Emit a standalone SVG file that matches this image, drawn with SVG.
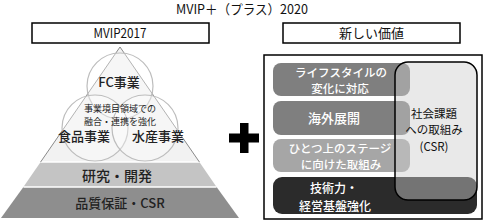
<svg xmlns="http://www.w3.org/2000/svg" width="485" height="221" viewBox="0 0 485 221">
<style>
text{font-family:"Noto Sans CJK JP","Noto Sans CJK SC",sans-serif;text-anchor:middle}
.hdr{fill:#fff;stroke:#000;stroke-width:1.5}
.t13{font-size:13px;fill:#111}
.t12{font-size:11.5px;fill:#111}
.dark{font-size:13px;fill:#222;font-weight:500}
.w{font-size:13px;fill:#fff;font-weight:500}
.w12{font-size:11.5px;fill:#fff;font-weight:500}
.circ{fill:#fff;fill-opacity:0.35;stroke:#bdbdbd;stroke-width:1.2}
.sep{stroke:#fff;stroke-width:1.5}
</style>
<rect width="485" height="221" fill="#fff"/>
<g id="title"><text class="t13" x="242" y="14" textLength="132" lengthAdjust="spacingAndGlyphs">MVIP＋（プラス）2020</text></g>
<g id="hdr-left"><rect class="hdr" x="32" y="23" width="177" height="20"/><text class="t13" x="120" y="38" textLength="53" lengthAdjust="spacingAndGlyphs">MVIP2017</text></g>
<g id="hdr-right"><rect class="hdr" x="283" y="23" width="177" height="20"/><text class="t13" x="371.5" y="38">新しい価値</text></g>
<g id="pyramid">
<polygon points="120,47 40.6,162 199.4,162" fill="#f2f2f2"/>
<polygon points="40.6,162 199.4,162 216.6,187 23.4,187" fill="#c4c4c4"/>
<polygon points="23.4,187 216.6,187 239,218 1,218" fill="#8e8e8e"/>
<line class="sep" x1="40.6" y1="162" x2="199.4" y2="162"/>
<line class="sep" x1="23.4" y1="187" x2="216.6" y2="187"/>
<polyline points="40.6,162 120,47 199.4,162" fill="none" stroke="#8a8a8a" stroke-width="1"/>
</g>
<g id="fc"><circle class="circ" cx="120" cy="86" r="33"/></g>
<g id="food"><circle class="circ" cx="95" cy="128" r="33"/></g>
<g id="marine"><circle class="circ" cx="145" cy="128" r="33"/></g>
<g id="labels">
<text class="dark" x="119" y="87">FC事業</text>
<text style="font-size:9px;fill:#222"><tspan x="120" y="112">事業境目領域での</tspan><tspan x="120" y="125">融合・連携を強化</tspan></text>
<text class="dark" x="84" y="141">食品事業</text>
<text class="dark" x="158" y="141">水産事業</text>
</g>
<g id="rd"><text class="dark" x="117" y="181" style="font-size:14px">研究・開発</text></g>
<g id="qa"><text class="dark" x="120" y="208">品質保証・CSR</text></g>
<g id="plus"><rect x="229" y="133.5" width="30" height="9" fill="#000"/><rect x="240" y="123" width="8.5" height="30" fill="#000"/></g>
<g id="value-box"><rect x="264" y="55" width="218" height="164" fill="#fff" stroke="#000" stroke-width="1.5"/></g>
<g id="lifestyle"><rect x="273" y="63" width="137" height="33" rx="8" fill="#7f7f7f"/><text class="w12"><tspan x="341" y="76.5">ライフスタイルの</tspan><tspan x="340" y="93.3">変化に対応</tspan></text></g>
<g id="overseas"><rect x="273" y="101" width="137" height="34" rx="8" fill="#7f7f7f"/><text class="w" x="334" y="123">海外展開</text></g>
<g id="nextstage"><rect x="273" y="139" width="137" height="33" rx="8" fill="#a6a6a6"/><text class="w12"><tspan x="340" y="152.5">ひとつ上のステージ</tspan><tspan x="341" y="169.3">に向けた取組み</tspan></text></g>
<g id="tech"><rect x="273" y="177" width="204" height="37" rx="9" fill="#2b2b2b"/><text class="w12" style="font-size:12px"><tspan x="334" y="193">技術力・</tspan><tspan x="335" y="210.6">経営基盤強化</tspan></text></g>
<g id="csr"><rect x="395" y="62" width="82" height="138" rx="13" fill="#cfcfcf" fill-opacity="0.45" stroke="#000" stroke-width="1.5"/>
<text class="t12"><tspan x="434" y="117.5">社会課題</tspan><tspan x="434" y="134.3">への取組み</tspan><tspan x="434" y="151.1">(CSR)</tspan></text></g>
</svg>
